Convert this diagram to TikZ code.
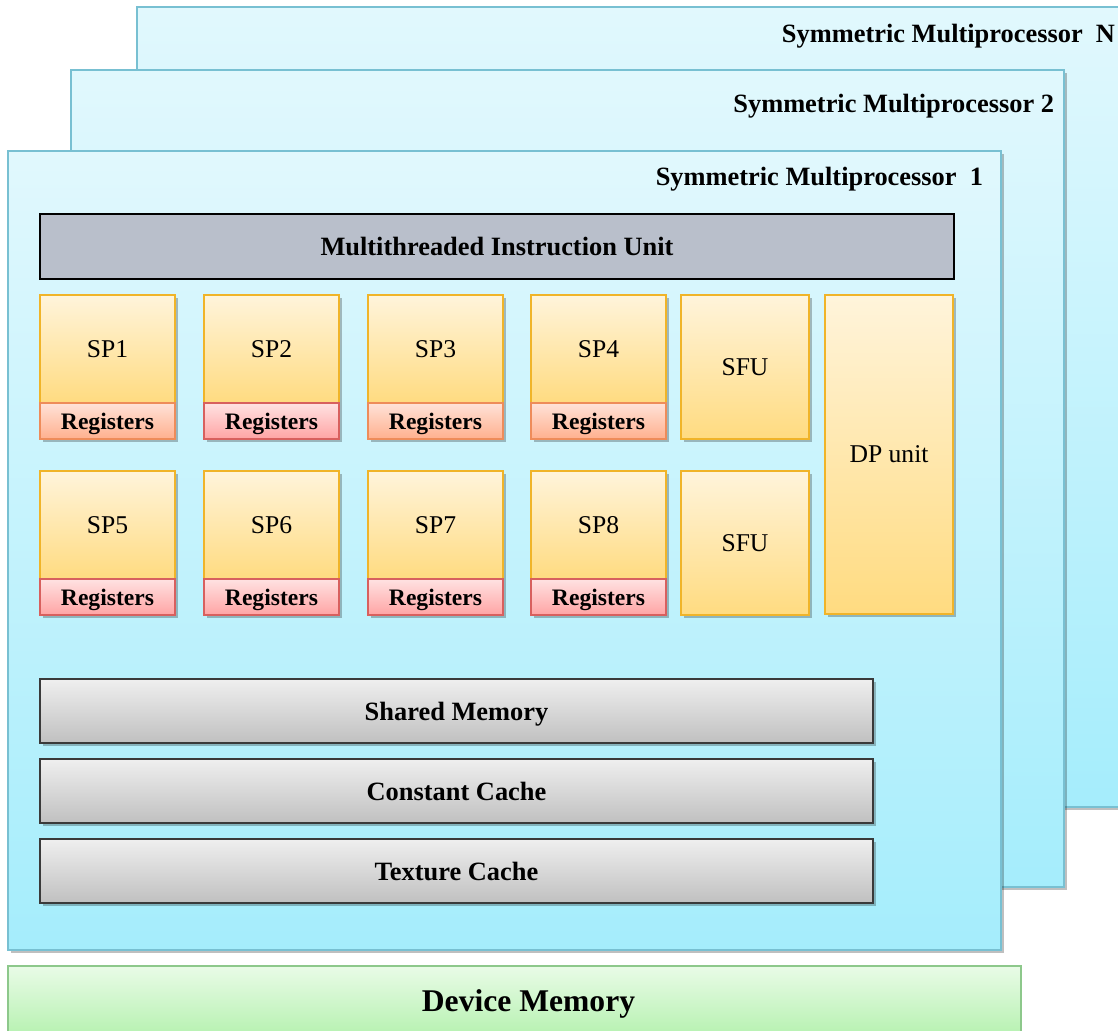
\documentclass[tikz,border=0pt]{standalone}
\usepackage{fontspec}
\setmainfont{Liberation Serif}
\usepackage{xcolor}
\usepackage{tikz}
\usetikzlibrary{positioning, shadows, calc}

\definecolor{panelTop}{HTML}{E1F8FD}
\definecolor{panelBot}{HTML}{A5EDFC}
\definecolor{panelLine}{HTML}{78C0D2}
\definecolor{spTop}{HTML}{FFF4DB}
\definecolor{spBot}{HTML}{FFDB80}
\definecolor{spLine}{HTML}{F0B429}
\definecolor{regOTop}{HTML}{FFE2D8}
\definecolor{regOBot}{HTML}{FFB08E}
\definecolor{regOLine}{HTML}{EE8C5A}
\definecolor{regRTop}{HTML}{FFE2E2}
\definecolor{regRBot}{HTML}{FFA4A4}
\definecolor{regRLine}{HTML}{D8605E}
\definecolor{iuFill}{HTML}{B9BFCB}
\definecolor{memTop}{HTML}{EFEFEF}
\definecolor{memBot}{HTML}{C0C0C0}
\definecolor{memLine}{HTML}{3A3A3A}
\definecolor{devTop}{HTML}{E9FBE7}
\definecolor{devBot}{HTML}{B3F1AD}
\definecolor{devLine}{HTML}{8DC88B}

\begin{document}
\begin{tikzpicture}[
    x=0.5pt, y=-0.5pt,
    every node/.style={inner sep=0pt, outer sep=0pt, text depth=0pt},
    shadowed/.style={drop shadow={shade=false, fill=black, opacity=0.25,
                     shadow xshift=1.5pt, shadow yshift=-1.5pt}},
    panel/.style={draw=panelLine, line width=0.6pt, top color=panelTop,
                  bottom color=panelBot, anchor=north west, minimum width=496.5pt,
                  shadowed},
    smlbl/.style={anchor=east, font=\fontsize{13.2}{15}\selectfont\bfseries},
    spbox/.style={draw=spLine, line width=0.6pt, top color=spTop, bottom color=spBot,
                  minimum width=67.5pt, minimum height=54pt,
                  font=\fontsize{12.8}{15}\selectfont, shadowed},
    sfu/.style={spbox, minimum width=64pt, minimum height=72pt},
    regbox/.style={line width=0.6pt, minimum width=67.5pt, minimum height=18pt,
                   font=\fontsize{11.8}{14}\selectfont\bfseries, shadowed},
    rego/.style={regbox, draw=regOLine, top color=regOTop, bottom color=regOBot},
    regr/.style={regbox, draw=regRLine, top color=regRTop, bottom color=regRBot},
    iunit/.style={draw=black, line width=1.3pt, fill=iuFill, anchor=north west,
                  minimum width=457pt, minimum height=32.5pt,
                  font=\fontsize{13.2}{15}\selectfont\bfseries},
    mem/.style={draw=memLine, line width=1pt, top color=memTop, bottom color=memBot,
                minimum width=416.5pt, minimum height=32pt,
                font=\fontsize{13.2}{15}\selectfont\bfseries, shadowed},
    devmem/.style={draw=devLine, line width=0.6pt, top color=devTop, bottom color=devBot,
                   anchor=north west, minimum width=506.5pt, minimum height=37pt,
                   font=\fontsize{15.8}{18}\selectfont\bfseries},
]
\clip (0,0) rectangle (1118,1030);

% Stacked multiprocessors (back to front)
\node[panel, minimum height=400pt] (smN) at (137,7) {};
\node[smlbl] (smNlbl) at ($(smN.north east)+(-15,26)$) {Symmetric Multiprocessor\ \ N};
\node[panel, minimum height=408.5pt] (sm2) at (71,70) {};
\node[smlbl] (sm2lbl) at ($(sm2.north east)+(-10,33)$) {Symmetric Multiprocessor 2};
\node[panel, minimum height=399.5pt] (sm1) at (8,151) {};
\node[smlbl] (sm1lbl) at ($(sm1.north east)+(-18,25)$) {Symmetric Multiprocessor\ \ 1};

% Device memory
\node[devmem] (dev) at (8,966) {\hspace*{14pt}\raisebox{2pt}{Device Memory}};

% Instruction unit
\node[iunit] (iu) at (40,214) {Multithreaded Instruction Unit};

% Streaming processors, first row
\node[spbox, anchor=north west] (sp1) at (40,295) {SP1};
\node[rego, below=0pt of sp1] (reg1) {Registers};
\node[spbox, right=14.5pt of sp1] (sp2) {SP2};
\node[regr, below=0pt of sp2] (reg2) {Registers};
\node[spbox, right=14.5pt of sp2] (sp3) {SP3};
\node[rego, below=0pt of sp3] (reg3) {Registers};
\node[spbox, right=14pt of sp3] (sp4) {SP4};
\node[rego, below=0pt of sp4] (reg4) {Registers};
\node[sfu, right=7.5pt of sp4.north east, anchor=north west] (sfu1) {SFU};

% Streaming processors, second row
\node[spbox, below=16pt of reg1] (sp5) {SP5};
\node[regr, below=0pt of sp5] (reg5) {Registers};
\node[spbox, right=14.5pt of sp5] (sp6) {SP6};
\node[regr, below=0pt of sp6] (reg6) {Registers};
\node[spbox, right=14.5pt of sp6] (sp7) {SP7};
\node[regr, below=0pt of sp7] (reg7) {Registers};
\node[spbox, right=14pt of sp7] (sp8) {SP8};
\node[regr, below=0pt of sp8] (reg8) {Registers};
\node[sfu, below=16pt of sfu1] (sfu2) {SFU};

% Double precision unit
\node[sfu, minimum height=159.5pt, right=8pt of sfu1.north east, anchor=north west] (dp) {DP unit};

% Memories
\node[mem, anchor=north west] (shmem) at (40,679) {Shared Memory};
\node[mem, below=8pt of shmem] (cmem) {Constant Cache};
\node[mem, below=8pt of cmem] (tmem) {Texture Cache};

\end{tikzpicture}
\end{document}
